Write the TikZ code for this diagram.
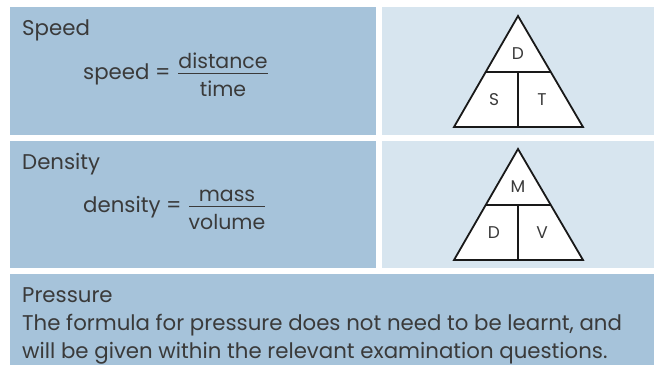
\documentclass[tikz,border=0pt]{standalone}
\usepackage{fontspec}
\setmainfont{Poppins}
\usetikzlibrary{calc}
\definecolor{leftblue}{HTML}{A6C3DA}
\definecolor{rightblue}{HTML}{D7E5EF}
\definecolor{txt}{HTML}{3A3A3A}
\begin{document}
\begin{tikzpicture}[x=1pt,y=-1pt,
  cellL/.style={fill=leftblue,draw=none},
  cellR/.style={fill=rightblue,draw=none},
  lbl/.style={anchor=base west,inner sep=0pt,text=txt,font=\fontsize{21.3}{24}\selectfont},
  frac/.style={anchor=base,inner sep=0pt,text=txt,font=\fontsize{20.5}{24}\selectfont},
  tri/.style={draw=black!90,line width=1.8pt,fill=white,line join=miter},
  triline/.style={draw=black!90,line width=1.8pt},
  letter/.style={inner sep=0pt,text=txt,font=\fontsize{17}{20}\selectfont},
  bar/.style={draw=txt,line width=1.2pt}]
\useasboundingbox (0,0) rectangle (657,365);
\fill[white] (0,0) rectangle (657,365);
% cells
\path[cellL] (10,7) rectangle (376,135);
\path[cellR] (382,7) rectangle (654,135);
\path[cellL] (10,141) rectangle (376,268);
\path[cellR] (382,141) rectangle (654,268);
\path[cellL] (10,274) rectangle (654,365);
% row 1
\node[lbl] (t1) at (22,35) {Speed};
\node[lbl] (f1) at (83,79) {speed =};
\node[frac] (n1) at (223,68) {distance};
\node[frac] (d1) at (223,96) {time};
\coordinate (b1l) at (178,73.5);
\coordinate (b1r) at (268,73.5);
\draw[bar] (b1l) -- (b1r);
\coordinate (A1) at (518,16);
\coordinate (L1) at (454,127);
\coordinate (R1) at (583,127);
\path[tri] (A1) -- (L1) -- (R1) -- cycle;
\coordinate (m1l) at ($(A1)!0.505!(L1)$);
\coordinate (m1r) at ($(A1)!0.505!(R1)$);
\coordinate (m1c) at (518,72);
\coordinate (m1b) at (518,127);
\draw[triline] (m1l) -- (m1r);
\draw[triline] (m1c) -- (m1b);
\node[letter] (D1) at (518,54) {D};
\node[letter] (S1) at (494,100) {S};
\node[letter] (T1) at (542,100) {T};
% row 2
\node[lbl] (t2) at (22,169) {Density};
\node[lbl] (f2) at (83,212) {density =};
\node[frac] (n2) at (227,201) {mass};
\node[frac] (d2) at (227,229) {volume};
\coordinate (b2l) at (189,206.5);
\coordinate (b2r) at (265,206.5);
\draw[bar] (b2l) -- (b2r);
\coordinate (A2) at (518,149);
\coordinate (L2) at (454,260);
\coordinate (R2) at (583,260);
\path[tri] (A2) -- (L2) -- (R2) -- cycle;
\coordinate (m2l) at ($(A2)!0.505!(L2)$);
\coordinate (m2r) at ($(A2)!0.505!(R2)$);
\coordinate (m2c) at (518,205);
\coordinate (m2b) at (518,260);
\draw[triline] (m2l) -- (m2r);
\draw[triline] (m2c) -- (m2b);
\node[letter] (M2) at (518,187) {M};
\node[letter] (D2) at (494,233) {D};
\node[letter] (V2) at (542,233) {V};
% row 3
\node[lbl] (t3) at (22,302) {Pressure};
\node[lbl] (p1) at (22,330) {The formula for pressure does not need to be learnt, and};
\node[lbl] (p2) at (22,358) {will be given within the relevant examination questions.};
\end{tikzpicture}
\end{document}
